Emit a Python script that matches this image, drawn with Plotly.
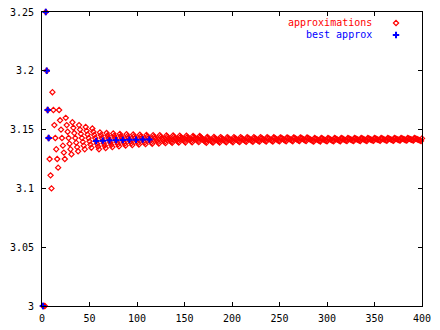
import plotly.graph_objects as go

# Denominators q and numerators p of the plotted fractions p/q
denominators = list(range(1, 401))
numerators = [
    3, 6, 9, 13, 16, 19, 22, 25, 28, 31,
    35, 38, 41, 44, 47, 50, 53, 57, 60, 63,
    66, 69, 72, 75, 79, 82, 85, 88, 91, 94,
    97, 101, 104, 107, 110, 113, 116, 119, 123, 126,
    129, 132, 135, 138, 141, 145, 148, 151, 154, 157,
    160, 163, 167, 170, 173, 176, 179, 182, 185, 188,
    192, 195, 198, 201, 204, 207, 210, 214, 217, 220,
    223, 226, 229, 232, 236, 239, 242, 245, 248, 251,
    254, 258, 261, 264, 267, 270, 273, 276, 280, 283,
    286, 289, 292, 295, 298, 302, 305, 308, 311, 314,
    317, 320, 324, 327, 330, 333, 336, 339, 342, 346,
    349, 352, 355, 358, 361, 364, 368, 371, 374, 377,
    380, 383, 386, 390, 393, 396, 399, 402, 405, 408,
    412, 415, 418, 421, 424, 427, 430, 434, 437, 440,
    443, 446, 449, 452, 456, 459, 462, 465, 468, 471,
    474, 478, 481, 484, 487, 490, 493, 496, 500, 503,
    506, 509, 512, 515, 518, 522, 525, 528, 531, 534,
    537, 540, 543, 547, 550, 553, 556, 559, 562, 565,
    569, 572, 575, 578, 581, 584, 587, 591, 594, 597,
    600, 603, 606, 609, 613, 616, 619, 622, 625, 628,
    631, 635, 638, 641, 644, 647, 650, 653, 657, 660,
    663, 666, 669, 672, 675, 679, 682, 685, 688, 691,
    694, 697, 701, 704, 707, 710, 713, 716, 719, 723,
    726, 729, 732, 735, 738, 741, 745, 748, 751, 754,
    757, 760, 763, 767, 770, 773, 776, 779, 782, 785,
    789, 792, 795, 798, 801, 804, 807, 811, 814, 817,
    820, 823, 826, 829, 833, 836, 839, 842, 845, 848,
    851, 855, 858, 861, 864, 867, 870, 873, 877, 880,
    883, 886, 889, 892, 895, 898, 902, 905, 908, 911,
    914, 917, 920, 924, 927, 930, 933, 936, 939, 942,
    946, 949, 952, 955, 958, 961, 964, 968, 971, 974,
    977, 980, 983, 986, 990, 993, 996, 999, 1002, 1005,
    1008, 1012, 1015, 1018, 1021, 1024, 1027, 1030, 1034, 1037,
    1040, 1043, 1046, 1049, 1052, 1056, 1059, 1062, 1065, 1068,
    1071, 1074, 1078, 1081, 1084, 1087, 1090, 1093, 1096, 1100,
    1103, 1106, 1109, 1112, 1115, 1118, 1122, 1125, 1128, 1131,
    1134, 1137, 1140, 1144, 1147, 1150, 1153, 1156, 1159, 1162,
    1166, 1169, 1172, 1175, 1178, 1181, 1184, 1188, 1191, 1194,
    1197, 1200, 1203, 1206, 1210, 1213, 1216, 1219, 1222, 1225,
    1228, 1232, 1235, 1238, 1241, 1244, 1247, 1250, 1253, 1257,
]
approx_values = [p / q for p, q in zip(numerators, denominators)]

best_denominators = [1, 4, 5, 6, 7, 57, 64, 71, 78, 85, 92, 99, 106, 113]
best_numerators = [3, 13, 16, 19, 22, 179, 201, 223, 245, 267, 289, 311, 333, 355]
best_values = [p / q for p, q in zip(best_numerators, best_denominators)]

x_ticks = [0, 50, 100, 150, 200, 250, 300, 350, 400]
y_ticks = [3, 3.05, 3.1, 3.15, 3.2, 3.25]
y_tick_labels = ["3", "3.05", "3.1", "3.15", "3.2", "3.25"]
series_names = ["approximations", "best approx"]

RED = "#ff0000"
BLUE = "#0000ff"
FONT = dict(family="DejaVu Sans Mono", size=10, color="black")
DIAMOND = dict(symbol="diamond-open", size=4, color=RED, line=dict(width=1.2, color=RED))
PLUS = dict(symbol="cross-thin-open", size=4.6, color=BLUE, line=dict(width=2, color=BLUE))

fig = go.Figure()
fig.add_trace(go.Scatter(
    x=denominators, y=approx_values, mode="markers", name=series_names[0],
    marker=DIAMOND, showlegend=False, cliponaxis=False,
))
fig.add_trace(go.Scatter(
    x=best_denominators, y=best_values, mode="markers", name=series_names[1],
    marker=PLUS, showlegend=False, cliponaxis=False,
))

# key samples on an overlay axis spanning the plot area
fig.add_trace(go.Scatter(
    x=[0.9316], y=[0.9626], xaxis="x2", yaxis="y2", mode="markers",
    marker=DIAMOND, showlegend=False, hoverinfo="skip",
))
fig.add_trace(go.Scatter(
    x=[0.9316], y=[0.9218], xaxis="x2", yaxis="y2", mode="markers",
    marker=PLUS, showlegend=False, hoverinfo="skip",
))

fig.add_annotation(xref="paper", yref="paper", x=0.8737, y=0.9626, xanchor="right", yanchor="middle",
                   text=series_names[0], showarrow=False,
                   font=dict(family="DejaVu Sans Mono", size=10, color=RED))
fig.add_annotation(xref="paper", yref="paper", x=0.8737, y=0.9218, xanchor="right", yanchor="middle",
                   text=series_names[1], showarrow=False,
                   font=dict(family="DejaVu Sans Mono", size=10, color=BLUE))

fig.update_layout(
    width=440, height=330,
    margin=dict(l=42, r=18, t=12, b=24, autoexpand=False),
    paper_bgcolor="white", plot_bgcolor="white",
    font=FONT,
    xaxis=dict(range=[0, 400], tickvals=x_ticks, ticks="inside", ticklen=4, tickcolor="black",
               showgrid=False, zeroline=False, showline=True, linecolor="black", linewidth=1,
               mirror="ticks", tickfont=FONT, ticklabelstandoff=3, automargin=False),
    yaxis=dict(range=[3, 3.25], tickvals=y_ticks, ticktext=y_tick_labels, ticks="inside", ticklen=4,
               tickcolor="black", showgrid=False, zeroline=False, showline=True, linecolor="black",
               linewidth=1, mirror="ticks", tickfont=FONT, ticklabelstandoff=5, automargin=False),
    xaxis2=dict(range=[0, 1], overlaying="x", visible=False),
    yaxis2=dict(range=[0, 1], overlaying="y", visible=False),
)

fig.write_html(
    "out.html",
    config={"displayModeBar": False},
    post_script="document.body.style.margin='0';document.body.style.padding='0';",
)
